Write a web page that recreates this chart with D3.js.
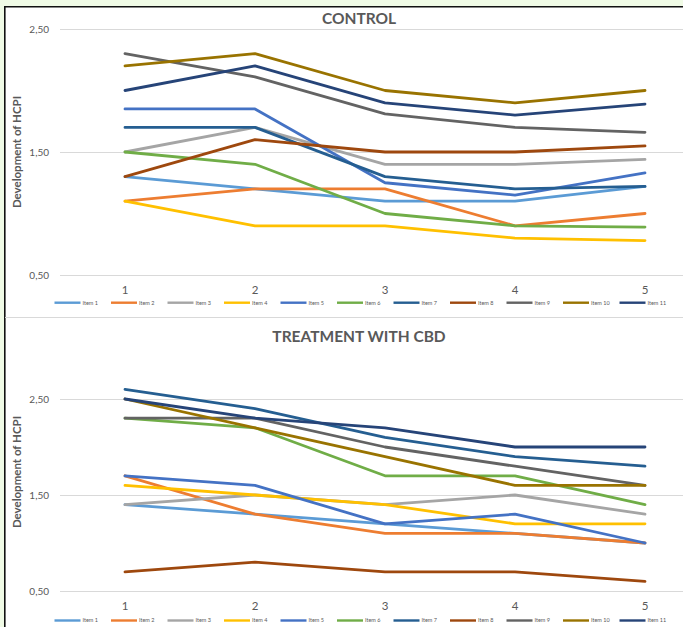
<!DOCTYPE html>
<html>
<head>
<meta charset="utf-8">
<script src="https://cdn.jsdelivr.net/npm/d3@7/dist/d3.min.js"></script>
<style>
  html, body { margin: 0; padding: 0; background: #f0fbe6; }
  svg { display: block; }
  text { font-family: Lato, "Open Sans", "Liberation Sans", sans-serif; }
</style>
</head>
<body>
<svg id="chart" width="683" height="627"></svg>
<script>
// Weeks on the category axis
const categories = ["1", "2", "3", "4", "5"];

// Series names and colours
const itemNames = ["Item 1", "Item 2", "Item 3", "Item 4", "Item 5", "Item 6",
                   "Item 7", "Item 8", "Item 9", "Item 10", "Item 11"];
const itemColors = ["#5b9bd5", "#ed7d31", "#a5a5a5", "#ffc000", "#4472c4", "#70ad47",
                    "#255e91", "#9e480e", "#636363", "#997300", "#264478"];

// Y-axis ticks
const yTicks = [0.5, 1.5, 2.5];

// Control group: one row per item, one value per category
const controlValues = [
  [1.30, 1.20, 1.10, 1.10, 1.22],
  [1.10, 1.20, 1.20, 0.90, 1.00],
  [1.50, 1.70, 1.40, 1.40, 1.44],
  [1.10, 0.90, 0.90, 0.80, 0.78],
  [1.85, 1.85, 1.25, 1.15, 1.33],
  [1.50, 1.40, 1.00, 0.90, 0.89],
  [1.70, 1.70, 1.30, 1.20, 1.22],
  [1.30, 1.60, 1.50, 1.50, 1.55],
  [2.30, 2.11, 1.81, 1.70, 1.66],
  [2.20, 2.30, 2.00, 1.90, 2.00],
  [2.00, 2.20, 1.90, 1.80, 1.89]
];

// CBD treatment group
const cbdValues = [
  [1.40, 1.30, 1.20, 1.10, 1.00],
  [1.70, 1.30, 1.10, 1.10, 1.00],
  [1.40, 1.50, 1.40, 1.50, 1.30],
  [1.60, 1.50, 1.40, 1.20, 1.20],
  [1.70, 1.60, 1.20, 1.30, 1.00],
  [2.30, 2.20, 1.70, 1.70, 1.40],
  [2.60, 2.40, 2.10, 1.90, 1.80],
  [0.70, 0.80, 0.70, 0.70, 0.60],
  [2.30, 2.30, 2.00, 1.80, 1.60],
  [2.50, 2.20, 1.90, 1.60, 1.60],
  [2.50, 2.30, 2.20, 2.00, 2.00]
];

const W = 683, H = 627;
const svg = d3.select("#chart");
const textGray = "#595959";
const gridGray = "#d9d9d9";

// Outer page and white chart sheet with its black frame
svg.append("rect").attr("width", W).attr("height", H).attr("fill", "#f0fbe6");
svg.append("rect").attr("x", 5).attr("y", 7).attr("width", W).attr("height", H).attr("fill", "#ffffff");
svg.append("line").attr("x1", 4.5).attr("x2", W).attr("y1", 6.8).attr("y2", 6.8)
  .attr("stroke", "#111").attr("stroke-width", 1.6);
svg.append("line").attr("x1", 4.8).attr("x2", 4.8).attr("y1", 6).attr("y2", H)
  .attr("stroke", "#111").attr("stroke-width", 1.6);

// Divider between the two panels
svg.append("line").attr("x1", 5).attr("x2", W).attr("y1", 317.5).attr("y2", 317.5)
  .attr("stroke", gridGray).attr("stroke-width", 1.2);

const fmt = d3.formatLocale({ decimal: ",", thousands: ".", grouping: [3], currency: ["", ""] }).format(".2f");

function drawPanel(p) {
  const g = svg.append("g");
  const x = d3.scaleBand().domain(categories).range([p.left, p.right]);
  const y = d3.scaleLinear().domain([0.5, 2.5]).range([p.bottom, p.top]);
  const cx = c => x(c) + x.bandwidth() / 2;

  // Title
  g.append("text").attr("x", p.titleX).attr("y", p.titleY)
    .attr("text-anchor", "middle").attr("font-size", 15.5).attr("font-weight", 700)
    .attr("fill", textGray).text(p.title);

  // Gridlines and tick labels via a left axis
  const yAxis = d3.axisLeft(y).tickValues(yTicks).tickFormat(fmt)
    .tickSize(-(W - p.left)).tickPadding(11);
  const ya = g.append("g").attr("transform", `translate(${p.left},0)`).call(yAxis);
  ya.select(".domain").remove();
  ya.selectAll(".tick line").attr("stroke", gridGray).attr("stroke-width", 1.2);
  ya.selectAll(".tick text").attr("fill", textGray).attr("font-size", 10)
    .style("font-family", "Lato, 'Open Sans', sans-serif");

  // Y-axis title
  g.append("text")
    .attr("transform", `translate(${p.yTitleX},${p.yTitleY}) rotate(-90)`)
    .attr("text-anchor", "middle").attr("font-size", 11.5).attr("font-weight", 700)
    .attr("fill", textGray).text("Development of HCPI");

  // Category labels via a bottom axis
  const xAxis = d3.axisBottom(x).tickSize(0).tickPadding(0);
  const xa = g.append("g").attr("transform", `translate(0,${p.catY})`).call(xAxis);
  xa.select(".domain").remove();
  xa.selectAll(".tick text").attr("fill", textGray).attr("font-size", 11.5)
    .attr("dy", "0.35em")
    .style("font-family", "Lato, 'Open Sans', sans-serif");

  // Series lines
  const line = d3.line().x((d, i) => cx(categories[i])).y(d => y(d));
  g.append("g").selectAll("path").data(p.values).join("path")
    .attr("d", line).attr("fill", "none")
    .attr("stroke", (d, i) => itemColors[i])
    .attr("stroke-width", 2.8).attr("stroke-linejoin", "round").attr("stroke-linecap", "round");

  // Legend
  const lg = g.append("g").attr("transform", `translate(0,${p.legendY})`);
  const items = lg.selectAll("g").data(itemNames).join("g")
    .attr("transform", (d, i) => `translate(${p.legendX + i * p.legendStep},0)`);
  items.append("line").attr("x1", 0).attr("x2", 26).attr("y1", 0).attr("y2", 0)
    .attr("stroke", (d, i) => itemColors[i]).attr("stroke-width", 2.4);
  items.append("text").attr("x", 28).attr("y", 0).attr("dy", "0.35em")
    .attr("font-size", 5.5).attr("fill", textGray).text(d => d);
}

drawPanel({
  title: "CONTROL", titleX: 359, titleY: 23.5,
  values: controlValues,
  left: 60, right: 710, top: 29, bottom: 275,
  yTitleX: 21, yTitleY: 152,
  catY: 290, legendY: 302.7, legendX: 54.5, legendStep: 56.5
});

drawPanel({
  title: "TREATMENT WITH CBD", titleX: 359, titleY: 341.5,
  values: cbdValues,
  left: 60, right: 710, top: 399, bottom: 591,
  yTitleX: 21, yTitleY: 472,
  catY: 606, legendY: 620.5, legendX: 54.5, legendStep: 56.5
});
</script>
</body>
</html>
